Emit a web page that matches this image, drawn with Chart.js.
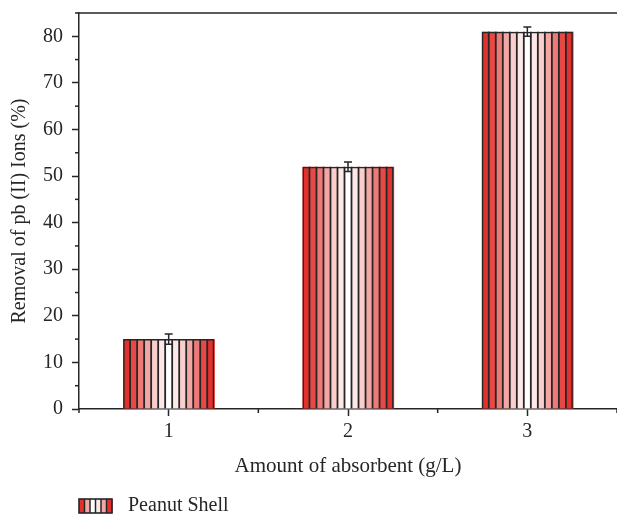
<!DOCTYPE html>
<html>
<head>
<meta charset="utf-8">
<script src="https://cdn.jsdelivr.net/npm/chart.js@4/dist/chart.umd.min.js"></script>
<style>
  html, body { margin: 0; padding: 0; background: #fff; }
  canvas { display: block; }
</style>
</head>
<body>
<canvas id="c" width="617" height="517"></canvas>
<script>
// ---- data ----
const categories = ['1', '2', '3'];
const removalValues = [15, 52, 81];
const errorValues = [1.1, 1.0, 1.0];
const yTickValues = [0, 10, 20, 30, 40, 50, 60, 70, 80];
const yMinorTickValues = [5, 15, 25, 35, 45, 55, 65, 75, 85];
const seriesName = 'Peanut Shell';
const xTitle = 'Amount of absorbent (g/L)';
const yTitle = 'Removal of pb (II) Ions (%)';

// ---- style ----
const INK = '#262626';
const FONT = "'Liberation Serif', 'Times New Roman', serif";
const stripeColors = ['#e2302c', '#e74a46', '#ee7a77', '#f4a6a4', '#f9cecd', '#fde8e8', '#ffffff',
                      '#fde8e8', '#f9cecd', '#f4a6a4', '#ee7a77', '#e74a46', '#e2302c'];
const legendStripeColors = ['#e2302c', '#f4a6a4', '#ffffff', '#fde8e8', '#f4a6a4', '#e2302c'];

function drawStripes(ctx, left, top, width, height, colors, lw) {
  const w = width / colors.length;
  colors.forEach((c, i) => {
    ctx.fillStyle = c;
    ctx.fillRect(left + i * w, top, w + 0.6, height);
  });
  ctx.strokeStyle = INK;
  ctx.lineWidth = lw;
  for (let i = 1; i < colors.length; i++) {
    const x = left + i * w;
    ctx.beginPath();
    ctx.moveTo(x, top);
    ctx.lineTo(x, top + height);
    ctx.stroke();
  }
}

// legend swatch
const legendSwatch = document.createElement('canvas');
legendSwatch.width = 35; legendSwatch.height = 16;
(function () {
  const g = legendSwatch.getContext('2d');
  drawStripes(g, 1, 1, 33, 14, legendStripeColors, 1.5);
  g.strokeStyle = INK; g.lineWidth = 1.6;
  g.strokeRect(1, 1, 33, 14);
})();

const LEGEND_SHIFT_X = 69;
const LEGEND_SHIFT_Y = 9;

const decor = {
  id: 'decor',
  afterLayout(chart) {
    chart.legend.left += LEGEND_SHIFT_X;
    chart.legend.top += LEGEND_SHIFT_Y;
  },
  beforeDatasetsDraw(chart) {
    const ctx = chart.ctx;
    const meta = chart.getDatasetMeta(0);
    meta.data.forEach(el => {
      const p = el.getProps(['x', 'y', 'base', 'width'], true);
      ctx.save();
      drawStripes(ctx, p.x - p.width / 2, p.y, p.width, p.base - p.y, stripeColors, 1.8);
      ctx.restore();
    });
  },
  afterDatasetsDraw(chart) {
    const ctx = chart.ctx;
    const ys = chart.scales.y;
    const meta = chart.getDatasetMeta(0);
    ctx.save();
    ctx.strokeStyle = INK;
    ctx.lineWidth = 1.5;
    meta.data.forEach((el, i) => {
      const x = el.x;
      const yt = ys.getPixelForValue(removalValues[i] + errorValues[i]);
      const yb = ys.getPixelForValue(removalValues[i] - errorValues[i]);
      ctx.beginPath();
      ctx.moveTo(x, yt); ctx.lineTo(x, yb);
      ctx.moveTo(x - 4, yt); ctx.lineTo(x + 4, yt);
      ctx.moveTo(x - 4, yb); ctx.lineTo(x + 4, yb);
      ctx.stroke();
    });
    ctx.restore();
  },
  afterDraw(chart) {
    const ctx = chart.ctx;
    const a = chart.chartArea;
    const xs = chart.scales.x, ys = chart.scales.y;
    ctx.save();
    ctx.strokeStyle = INK;
    ctx.lineWidth = 1.5;
    // top frame line
    ctx.beginPath();
    ctx.moveTo(a.left - 0.75, a.top);
    ctx.lineTo(a.right + 2, a.top);
    ctx.stroke();
    // minor y ticks
    yMinorTickValues.forEach(v => {
      const y = ys.getPixelForValue(v);
      ctx.beginPath(); ctx.moveTo(a.left - 4, y); ctx.lineTo(a.left, y); ctx.stroke();
    });
    // minor x ticks at category edges
    for (let i = 0; i <= categories.length; i++) {
      const x = xs.getPixelForValue(i - 0.5);
      ctx.beginPath(); ctx.moveTo(x, a.bottom); ctx.lineTo(x, a.bottom + 4); ctx.stroke();
    }
    ctx.restore();
  }
};

Chart.defaults.font.family = FONT;
Chart.defaults.color = INK;

new Chart(document.getElementById('c'), {
  type: 'bar',
  data: {
    labels: categories,
    datasets: [{
      label: seriesName,
      data: removalValues,
      backgroundColor: 'rgba(0,0,0,0)',
      borderColor: INK,
      borderWidth: 1.5,
      barPercentage: 0.508,
      categoryPercentage: 1.0
    }]
  },
  options: {
    responsive: false,
    animation: false,
    layout: { padding: { top: 13, right: 0, bottom: 0, left: 0 } },
    plugins: {
      tooltip: { enabled: false },
      legend: {
        display: true,
        position: 'bottom',
        align: 'start',
        labels: {
          usePointStyle: true,
          pointStyle: legendSwatch,
          pointStyleWidth: 45,
          boxHeight: 16,
          padding: 4,
          color: INK,
          font: { size: 20, family: FONT }
        }
      }
    },
    scales: {
      x: {
        type: 'category',
        offset: true,
        grid: {
          offset: false,
          drawOnChartArea: false,
          drawTicks: true,
          tickLength: 7,
          tickColor: INK,
          tickWidth: 1.5
        },
        border: { display: true, color: INK, width: 1.5 },
        ticks: { color: INK, padding: 4, font: { size: 20, family: FONT } },
        title: {
          display: true,
          text: xTitle,
          color: INK,
          font: { size: 21, family: FONT },
          padding: { top: 0, bottom: 4 }
        },
        afterFit(scale) {
          scale.height = 74;
          scale.paddingLeft = 0; scale.paddingRight = 0;
        }
      },
      y: {
        min: 0,
        max: 85,
        afterBuildTicks(scale) { scale.ticks = yTickValues.map(v => ({ value: v })); },
        grid: {
          drawOnChartArea: false,
          drawTicks: true,
          tickLength: 7,
          tickColor: INK,
          tickWidth: 1.5
        },
        border: { display: true, color: INK, width: 1.5 },
        ticks: { color: INK, padding: 9, font: { size: 20, family: FONT } },
        title: {
          display: true,
          text: yTitle,
          color: INK,
          font: { size: 20, family: FONT },
          padding: { top: 8, bottom: 0 }
        },
        afterFit(scale) {
          scale.width = 79;
          scale.paddingTop = 0; scale.paddingBottom = 0;
        }
      }
    }
  },
  plugins: [decor]
});
</script>
</body>
</html>
